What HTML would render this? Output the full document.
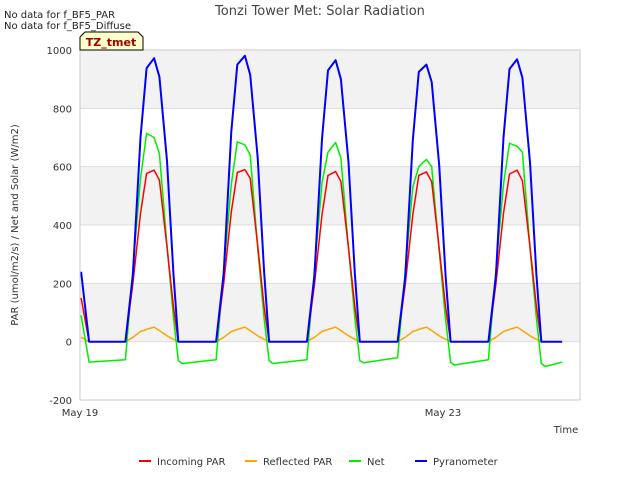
<!DOCTYPE html>
<html><head><meta charset="utf-8"><style>
body{margin:0;background:#fff;font-family:"Liberation Sans","DejaVu Sans",sans-serif}
svg text{font-family:"DejaVu Sans","Liberation Sans",sans-serif}
</style></head><body>
<svg id="chart" width="640" height="480" viewBox="0 0 640 480" xmlns="http://www.w3.org/2000/svg">
<rect width="640" height="480" fill="#fff"/>
<g id="bands"></g>
<g id="grid"></g>
<g id="series"></g>
<rect x="80" y="50" width="500" height="350" fill="none" stroke="#ccc"/>
<g id="yticks" font-size="10" fill="#333"></g>
<g id="xticks" font-size="10" fill="#333"></g>
<text x="320" y="15" text-anchor="middle" font-size="13" fill="#444">Tonzi Tower Met: Solar Radiation</text>
<text x="4" y="18" font-size="10" fill="#222">No data for f_BF5_PAR</text>
<text x="4" y="29" font-size="10" fill="#222">No data for f_BF5_Diffuse</text>
<g>
<path d="M80,50 L80,37 L85,32 L138,32 L143,37 L143,50 Z" fill="#ffffcc" stroke="#000" stroke-width="1"/>
<text x="111" y="46" text-anchor="middle" font-size="11" font-weight="bold" fill="#a00000">TZ_tmet</text>
</g>
<text transform="translate(18,225) rotate(-90)" text-anchor="middle" font-size="10" fill="#333">PAR (umol/m2/s) / Net and Solar (W/m2)</text>
<text x="566" y="433" text-anchor="middle" font-size="10" fill="#333">Time</text>
<g id="legend" font-size="10" fill="#333"></g>
</svg>
<script>
const times=[0.3,2.4,
12,14,16,17.6,19.6,21,23,24.7,26,27,
36,38,40,41.6,43.6,45,47,48.7,50,51,
60,62,64,65.6,67.6,69,71,72.7,74,75,
84,86,88,89.6,91.6,93,95,96.7,98,99,
108,110,112,113.6,115.6,117,119,120.7,122,123,
127.5];
const incomingPAR=[150,0,
0,200,440,577,588,554,325,120,0,0,
0,200,445,580,590,560,330,120,0,0,
0,195,435,570,583,550,322,118,0,0,
0,195,435,570,582,548,320,118,0,0,
0,198,440,575,588,552,325,120,0,0,
0];
const reflectedPAR=[15,0,
0,15,35,42,50,38,20,8,0,0,
0,15,35,42,50,38,20,8,0,0,
0,15,35,42,50,38,20,8,0,0,
0,15,35,42,50,38,20,8,0,0,
0,15,35,42,50,38,20,8,0,0,
0];
const netRad=[90,-70,
-62,250,560,714,700,645,330,85,-65,-75,
-62,240,540,685,675,640,320,80,-65,-75,
-62,245,545,650,683,630,320,80,-65,-72,
-55,240,530,600,625,600,310,75,-70,-80,
-62,245,540,680,670,650,320,80,-75,-85,
-70];
const pyranometer=[240,0,
0,230,700,938,972,908,620,235,0,0,
0,235,720,950,980,915,630,240,0,0,
0,225,695,930,965,900,615,230,0,0,
0,220,690,925,950,890,605,225,0,0,
0,225,700,935,968,905,615,230,0,0,
0];
const yTicks=[-200,0,200,400,600,800,1000];
const xTickHours=[0,96];
const xTickLabels=["May 19","May 23"];
const seriesNames=["Incoming PAR","Reflected PAR","Net","Pyranometer"];
const NS="http://www.w3.org/2000/svg";
const X=h=>80+h*90.75/24;
const Y=v=>50+(1000-v)*350/1200;
function mk(tag,attrs,parent){const e=document.createElementNS(NS,tag);for(const k in attrs)e.setAttribute(k,attrs[k]);parent.appendChild(e);return e;}
const bands=document.getElementById('bands');
for(let i=0;i<yTicks.length-1;i++){
  const lo=yTicks[i],hi=yTicks[i+1];
  if(i%2===1){const r=mk('rect',{x:80,y:Y(hi),width:500,height:Y(lo)-Y(hi),fill:'#f2f2f2'},bands);
  
  }
}
const grid=document.getElementById('grid'),yt=document.getElementById('yticks');
yTicks.forEach(v=>{
  const l=mk('line',{x1:80,x2:580,y1:Y(v),y2:Y(v),stroke:'#ddd'},grid);
  
  
  const t=mk('text',{x:72,y:Y(v)+4,'text-anchor':'end'},yt);t.textContent=v;
  
  
});
const xt=document.getElementById('xticks');
xTickHours.forEach((h,i)=>{
  const t=mk('text',{x:X(h),y:416,'text-anchor':'middle'},xt);t.textContent=xTickLabels[i];
  
  
});
const colors=["#ff0000","#ffa500","#00ee00","#0000ff"];
const data=[incomingPAR,reflectedPAR,netRad,pyranometer];
const sg=document.getElementById('series');
[3,2,0,1].forEach(si=>{});
[1,2,0,3].forEach(si=>{
  const d=data[si].map((v,i)=>(i?'L':'M')+X(times[i]).toFixed(1)+','+Y(v).toFixed(1)).join(' ');
  const p=mk('path',{d:d,fill:'none',stroke:colors[si],'stroke-width':si===3?2:1.5,'stroke-linejoin':'round'},sg);
  
  
});
const lg=document.getElementById('legend');
const lx=[139,245,349,415];
seriesNames.forEach((n,i)=>{
  const g=mk('g',{},lg);
  
  
  mk('line',{x1:lx[i],x2:lx[i]+12,y1:461,y2:461,stroke:colors[i],'stroke-width':2},g);
  const t=mk('text',{x:lx[i]+18,y:465},g);t.textContent=n;
});
</script>
</body></html>
